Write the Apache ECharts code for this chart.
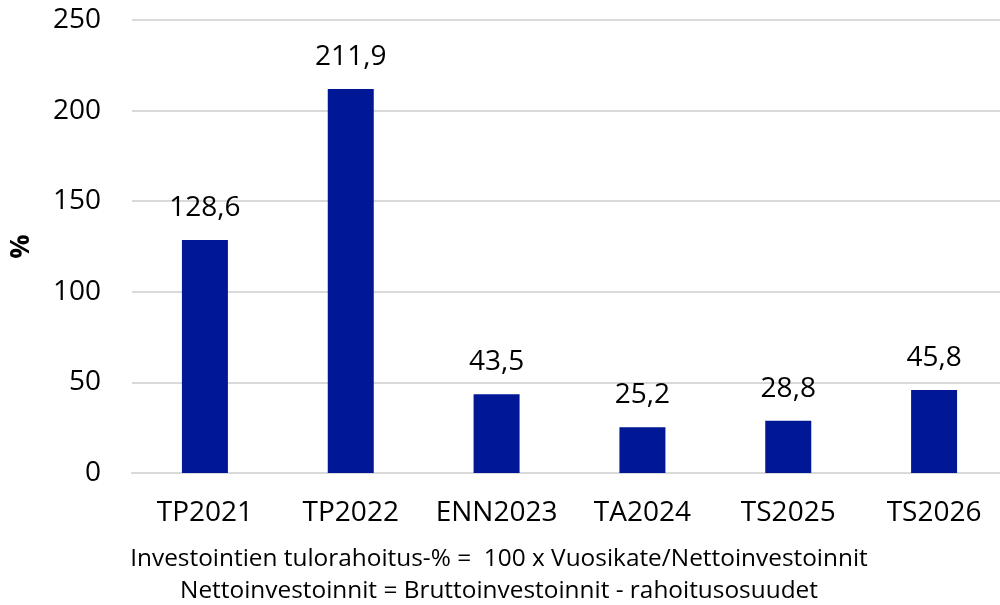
<!DOCTYPE html>
<html>
<head>
<meta charset="utf-8">
<script src="https://cdn.jsdelivr.net/npm/echarts@6/dist/echarts.min.js"></script>
<style>
html,body{margin:0;padding:0;background:#fff;overflow:hidden;width:1000px;height:605px;}
#chart{width:1007px;height:605px;}
</style>
</head>
<body>
<div id="chart"></div>
<script>
const categories = ['TP2021', 'TP2022', 'ENN2023', 'TA2024', 'TS2025', 'TS2026'];
const values = [128.6, 211.9, 43.5, 25.2, 28.8, 45.8];
const yTicks = { min: 0, max: 250, interval: 50 };
const axisName = '%';
const footnotes = [
  'Investointien tulorahoitus-% =  100 x Vuosikate/Nettoinvestoinnit',
  'Nettoinvestoinnit = Bruttoinvestoinnit - rahoitusosuudet'
];

const FONT = '"Open Sans", "Noto Sans", sans-serif';
const chart = echarts.init(document.getElementById('chart'), null, { renderer: 'canvas' });
chart.setOption({
  animation: false,
  backgroundColor: '#ffffff',
  textStyle: { fontFamily: FONT },
  grid: { left: 128, top: 20, right: 0, height: 453, containLabel: false },
  title: {
    text: footnotes.join('\n'),
    left: 494,
    top: 538,
    textAlign: 'center',
    textStyle: { fontFamily: FONT, fontSize: 24.4, fontWeight: 'normal', color: '#000', lineHeight: 32 }
  },
  xAxis: {
    type: 'category',
    data: categories,
    axisLine: { show: true, lineStyle: { color: '#d9d9d9', width: 2 } },
    axisTick: { show: false },
    axisLabel: { color: '#000', fontSize: 28, fontFamily: FONT, margin: 26, interval: 0 }
  },
  yAxis: {
    type: 'value',
    min: yTicks.min, max: yTicks.max, interval: yTicks.interval,
    name: axisName,
    nameLocation: 'middle',
    nameGap: 97,
    nameTextStyle: { color: '#000', fontSize: 27, fontWeight: 'bold', fontFamily: FONT },
    axisLine: { show: false },
    axisTick: { show: false },
    axisLabel: { color: '#000', fontSize: 28, fontFamily: FONT, margin: 31 },
    splitLine: { lineStyle: { color: '#d9d9d9', width: 2 } }
  },
  series: [{
    type: 'bar',
    data: values,
    barWidth: 46,
    itemStyle: { color: '#001896' },
    label: {
      show: true,
      position: 'top',
      distance: 18,
      color: '#000',
      fontSize: 28,
      fontFamily: FONT,
      formatter: p => p.value.toFixed(1).replace('.', ',')
    }
  }]
});
</script>
</body>
</html>
